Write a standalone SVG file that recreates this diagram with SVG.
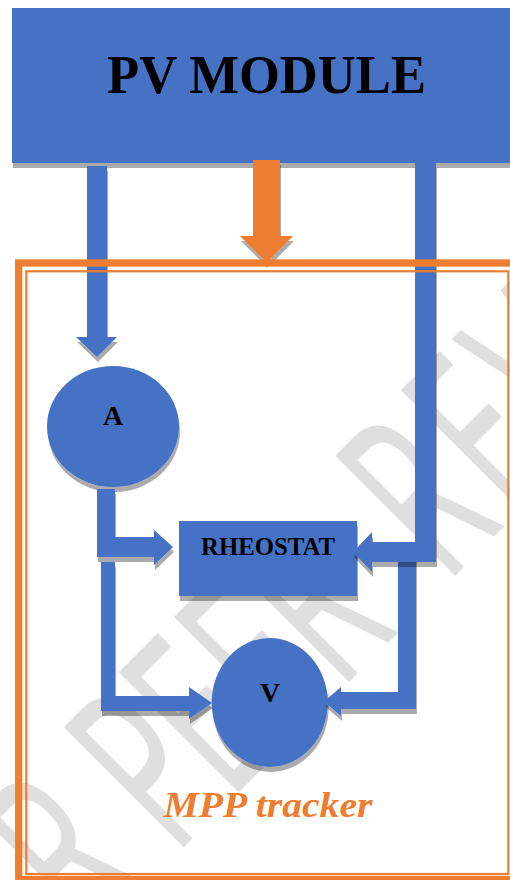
<svg xmlns="http://www.w3.org/2000/svg" width="510" height="880" viewBox="0 0 510 880">
<defs>
<filter id="sh" x="-20%" y="-20%" width="140%" height="140%">
<feOffset in="SourceAlpha" dx="1" dy="5" result="o"/>
<feComponentTransfer in="o" result="s"><feFuncA type="linear" slope="0.33"/></feComponentTransfer>
<feMerge><feMergeNode in="s"/><feMergeNode in="SourceGraphic"/></feMerge>
</filter>
<style>
.b{fill:#4472c4}
.o{fill:#ed7d31}
.sh{filter:url(#sh)}
.lbl{font-family:"Liberation Serif","Times New Roman",serif;font-weight:bold;fill:#000;text-anchor:middle}
.wm{font-family:"Open Sans","DejaVu Sans",sans-serif;font-size:235px;fill:#dfdfdf;stroke:#dfdfdf;stroke-width:2;stroke-linejoin:round}
.frame{fill:none;stroke:#ed7d31}
</style>
</defs>
<rect width="510" height="880" fill="#fff"/>
<g id="watermark">
<text class="wm" transform="rotate(-45) scale(0.58,1)" x="-1695 -1524 -1343 -1169 -1040 -891 -831 -697 -562 -428 -279 -169 -9 138 269 333 462" y="728">UNDER PEER REVIEW</text>
</g>
<g id="pv-module">
<rect class="b sh" x="12" y="8" width="510" height="155"/>
<text class="lbl" x="266.5" y="93" font-size="55" textLength="319" lengthAdjust="spacingAndGlyphs">PV MODULE</text>
</g>
<g id="ammeter">
<ellipse class="b sh" cx="113" cy="426.5" rx="66" ry="60.5"/>
<text class="lbl" x="113" y="425" font-size="28">A</text>
</g>
<g id="voltmeter">
<ellipse class="b sh" cx="269.7" cy="702.5" rx="58" ry="64.5"/>
<text class="lbl" x="270" y="702" font-size="28">V</text>
</g>
<g id="rheostat">
<rect class="b sh" x="179" y="521" width="178" height="75"/>
<text class="lbl" x="268" y="555" font-size="24.5" textLength="134" lengthAdjust="spacingAndGlyphs">RHEOSTAT</text>
</g>
<g id="connectors">
<polygon class="b sh" points="87,166 107,166 107,337 117,337 97,357 76,337 87,337"/>
<polygon class="b sh" points="101,562 115,562 115,696 189,696 189,687 212,703 189,719 189,711 101,711"/>
<polygon class="b sh" points="398,555 416,555 416,709 341,709 341,716 324,701.5 341,687 341,692 398,692"/>
<polygon class="b sh" points="97,489 115,489 115,537 154,537 154,530 173,547 154,565 154,557 97,557"/>
<polygon class="b sh" points="415,163 436,163 436,562 372,562 372,572 353,552 372,532 372,542 415,542"/>
<polygon class="o sh" points="253,160 280,160 280,236 293,236 266.5,262.7 240,236 253,236"/>
</g>
<g id="mpp-tracker">
<rect class="frame" x="18.7" y="263" width="500" height="616.5" stroke-width="7.3"/>
<rect class="frame" x="26.3" y="271.3" width="482" height="602.7" stroke-width="2.2"/>
<text x="268" y="817" font-family="'Liberation Serif','Times New Roman',serif" font-weight="bold" font-style="italic" font-size="35" fill="#ed7d31" text-anchor="middle" textLength="209" lengthAdjust="spacingAndGlyphs">MPP tracker</text>
</g>
</svg>
